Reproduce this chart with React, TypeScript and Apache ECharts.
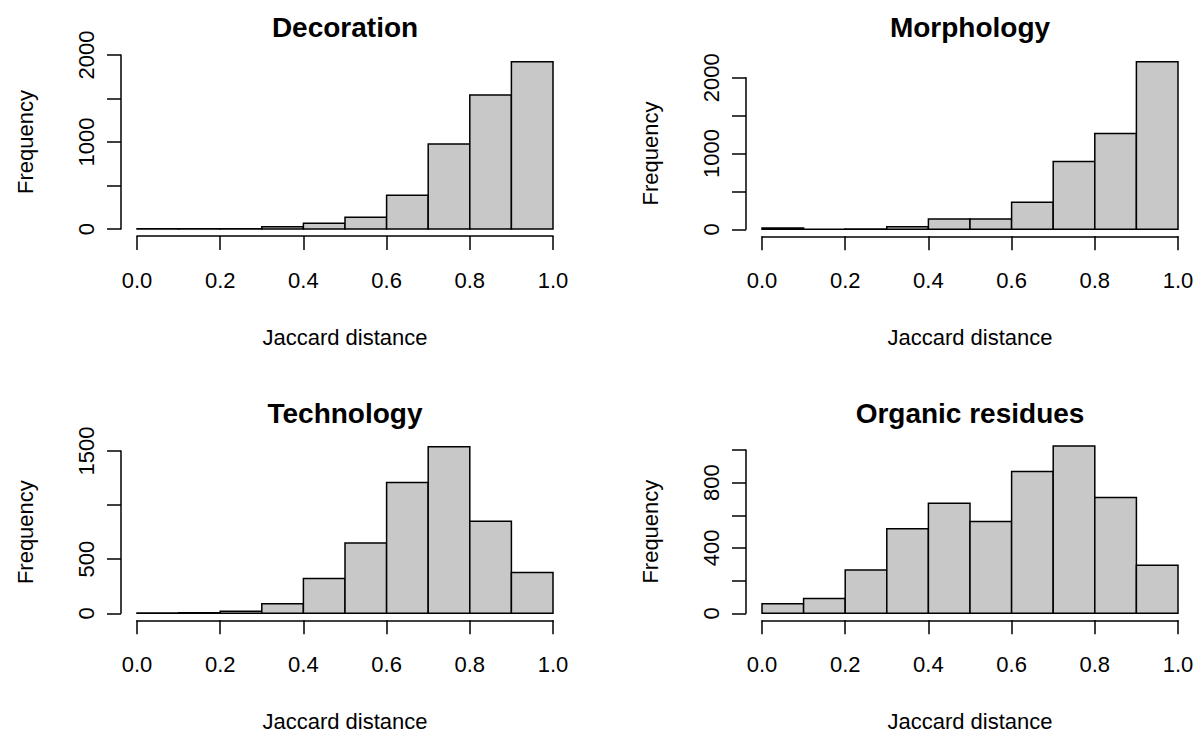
import React, { useEffect, useRef } from "react";
import * as echarts from "echarts";

// Histogram bin edges (Jaccard distance)
const binEdges = [0, 0.1, 0.2, 0.3, 0.4, 0.5, 0.6, 0.7, 0.8, 0.9, 1.0];

// Frequencies per bin
const decorationCounts = [3, 2, 3, 25, 65, 134, 387, 977, 1540, 1923];
const morphologyCounts = [18, 2, 5, 35, 137, 136, 357, 894, 1264, 2210];
const technologyCounts = [3, 6, 20, 89, 321, 649, 1209, 1540, 851, 377];
const organicCounts = [59, 90, 265, 517, 674, 562, 869, 1024, 709, 295];

const panelTitles = ["Decoration", "Morphology", "Technology", "Organic residues"];

// Axis ticks
const xTicks = [0, 0.2, 0.4, 0.6, 0.8, 1.0];
const decorationYTicks = [0, 500, 1000, 1500, 2000];
const morphologyYTicks = [0, 500, 1000, 1500, 2000];
const technologyYTicks = [0, 500, 1000, 1500];
const organicYTicks = [0, 200, 400, 600, 800, 1000];

// Tick labels that are printed (the others are dropped for lack of room)
const decorationYLabels = [0, 1000, 2000];
const morphologyYLabels = [0, 1000, 2000];
const technologyYLabels = [0, 500, 1500];
const organicYLabels = [0, 400, 800];

const xName = "Jaccard distance";
const yName = "Frequency";

const FONT = "Liberation Sans, Arial, Helvetica, sans-serif";
const AXIS_FONT = 22;
const TITLE_FONT = 28;

// Layout (pixel positions of each plot region)
const layouts = [
  { left: 137, top: 55, height: 174, titleY: 27 },
  { left: 762, top: 77.7, height: 151.6, titleY: 27 },
  { left: 137, top: 451, height: 162.3, titleY: 413 },
  { left: 762, top: 450, height: 163.3, titleY: 413 },
];
const PLOT_W = 416;

export default function App() {
  const ref = useRef<HTMLDivElement>(null);

  useEffect(() => {
    if (!ref.current) return;
    const chart = echarts.init(ref.current, undefined, { renderer: "svg" });

    const countsList = [decorationCounts, morphologyCounts, technologyCounts, organicCounts];
    const yTicksList = [decorationYTicks, morphologyYTicks, technologyYTicks, organicYTicks];
    const yLabelsList = [decorationYLabels, morphologyYLabels, technologyYLabels, organicYLabels];

    const axisLine = { show: true, onZero: false, lineStyle: { color: "#000", width: 1.5 } };
    const axisTick = { show: true, length: 14, lineStyle: { color: "#000", width: 1.5 } };

    const grids: any[] = [];
    const xAxes: any[] = [];
    const yAxes: any[] = [];
    const series: any[] = [];
    const titles: any[] = [];

    countsList.forEach((counts, i) => {
      const L = layouts[i];
      const yTicks = yTicksList[i];
      const yLabels = yLabelsList[i];
      grids.push({ left: L.left, top: L.top, width: PLOT_W, height: L.height, containLabel: false });
      xAxes.push({
        type: "value",
        gridIndex: i,
        min: xTicks[0],
        max: xTicks[xTicks.length - 1],
        interval: xTicks[1] - xTicks[0],
        offset: 7,
        axisLine,
        axisTick,
        splitLine: { show: false },
        axisLabel: {
          color: "#000",
          fontFamily: FONT,
          fontSize: AXIS_FONT,
          margin: 33,
          formatter: (v: number) => v.toFixed(1),
        },
        name: xName,
        nameLocation: "middle",
        nameGap: 90,
        nameTextStyle: { color: "#000", fontFamily: FONT, fontSize: AXIS_FONT },
      });
      yAxes.push({
        type: "value",
        gridIndex: i,
        min: yTicks[0],
        max: yTicks[yTicks.length - 1],
        interval: yTicks[1] - yTicks[0],
        offset: 16,
        axisLine,
        axisTick,
        splitLine: { show: false },
        axisLabel: {
          color: "#000",
          fontFamily: FONT,
          fontSize: AXIS_FONT,
          rotate: 90,
          margin: 24,
          formatter: (v: number) => (yLabels.indexOf(v) >= 0 ? String(v) : ""),
        },
        name: yName,
        nameLocation: "middle",
        nameGap: 85,
        nameTextStyle: { color: "#000", fontFamily: FONT, fontSize: AXIS_FONT },
      });
      const data = counts.map((c, k) => [binEdges[k], binEdges[k + 1], c]);
      series.push({
        type: "custom",
        xAxisIndex: i,
        yAxisIndex: i,
        clip: false,
        data,
        renderItem: (params: any, api: any) => {
          const x0 = api.value(0);
          const x1 = api.value(1);
          const c = api.value(2);
          const p0 = api.coord([x0, 0]);
          const p1 = api.coord([x1, c]);
          return {
            type: "rect",
            shape: { x: p0[0], y: p1[1], width: p1[0] - p0[0], height: p0[1] - p1[1] },
            style: { fill: "#C8C8C8", stroke: "#000", lineWidth: 1.5 },
          };
        },
      });
      titles.push({
        type: "text",
        x: L.left + PLOT_W / 2,
        y: L.titleY,
        style: {
          text: panelTitles[i],
          fill: "#000",
          font: `bold ${TITLE_FONT}px ${FONT}`,
          textAlign: "center",
          textVerticalAlign: "middle",
        },
      });
    });

    chart.setOption({
      animation: false,
      backgroundColor: "#fff",
      graphic: titles,
      grid: grids,
      xAxis: xAxes,
      yAxis: yAxes,
      series,
    });

    return () => chart.dispose();
  }, []);

  return (
    <div
      ref={ref}
      style={{ position: "fixed", left: 0, top: 0, width: 1198, height: 734, background: "#fff" }}
    />
  );
}
